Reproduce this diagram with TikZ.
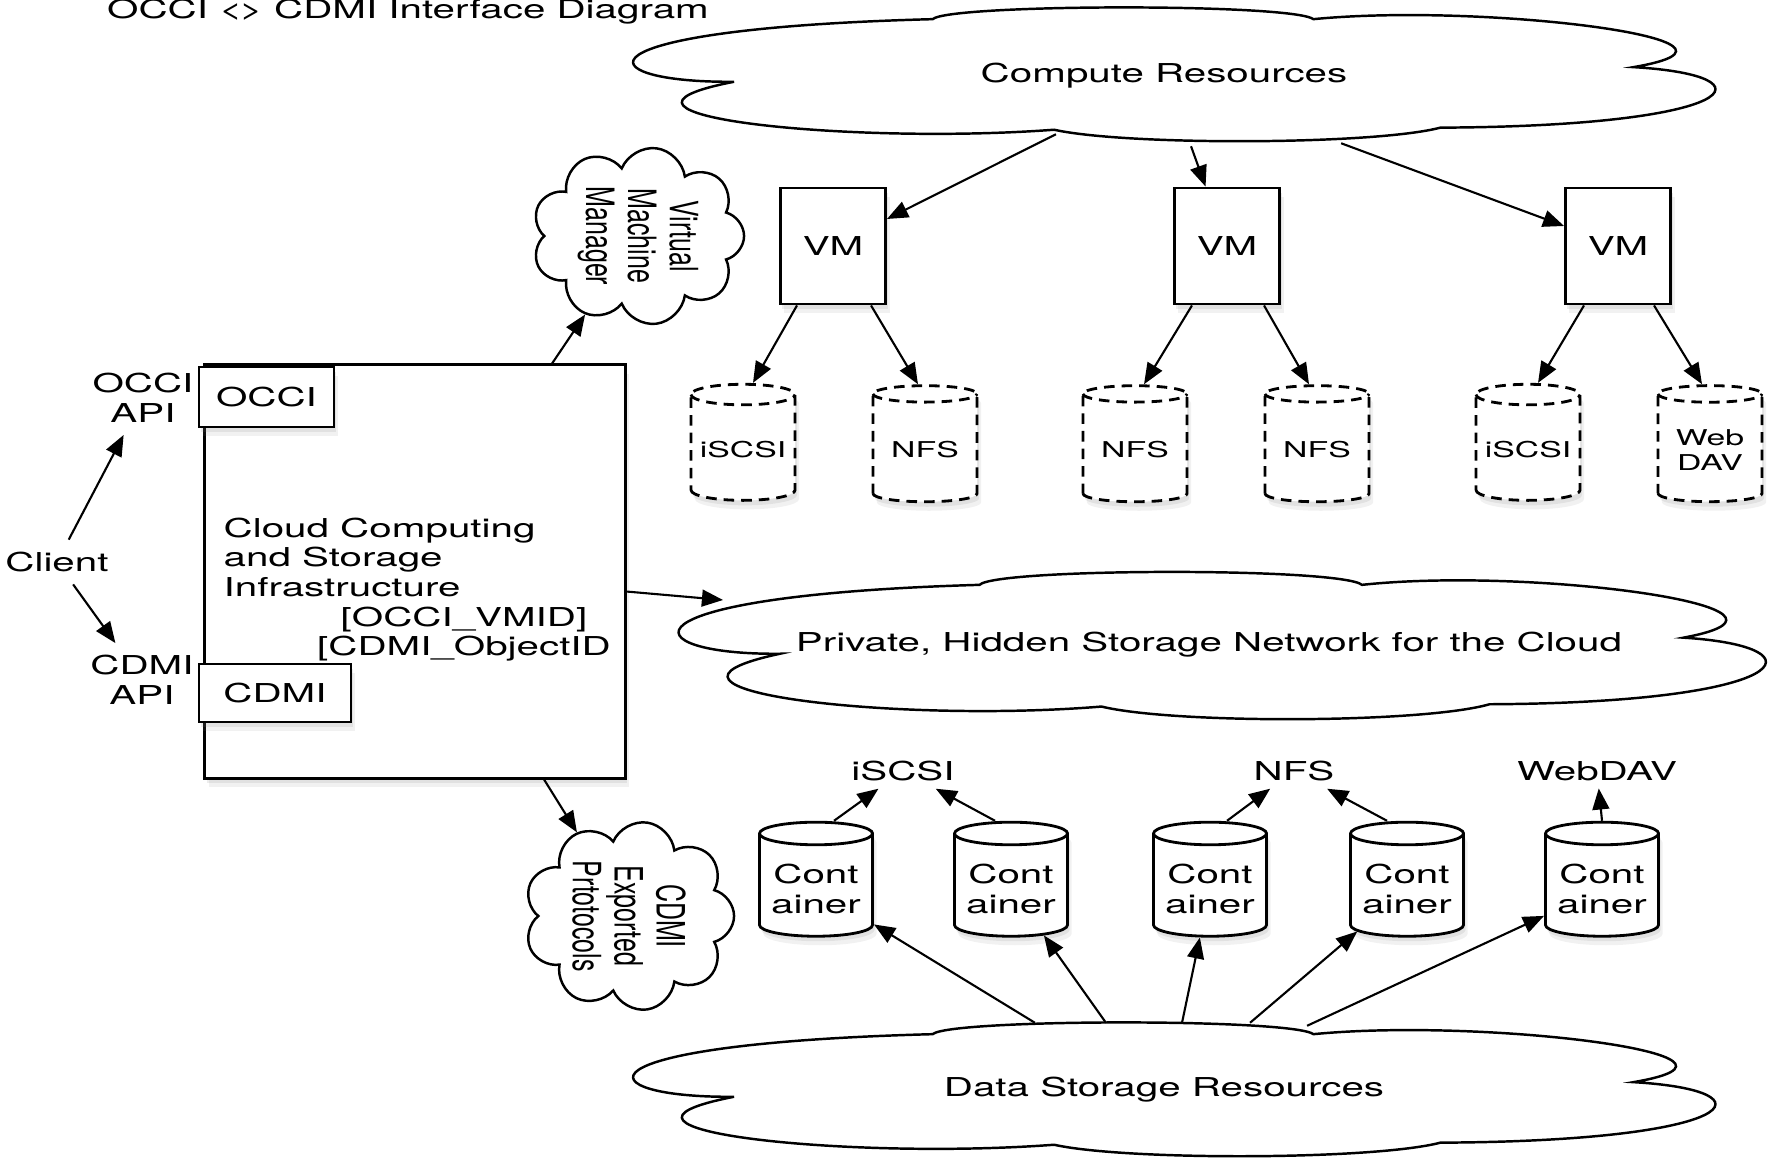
\documentclass[tikz,border=0pt]{standalone}
\usepackage{fontspec}
\setmainfont{TeX Gyre Heros}
\newfontfamily\widesans[FakeStretch=1.55]{TeX Gyre Heros}
\newfontfamily\tallsans[FakeStretch=0.64]{TeX Gyre Heros}
\usetikzlibrary{arrows.meta,shapes.geometric,shapes.symbols,shadows}
\def\boxfont{\widesans\fontsize{7.4}{8.4}\selectfont}
\def\smallfont{\widesans\fontsize{6.2}{7.3}\selectfont}
\def\sidefont{\tallsans\fontsize{11.1}{11.9}\selectfont}
% flat cloud with six lobes, #1 centre, #2 and #3 half width and half height in cm
\newcommand\puffcloud[3]{\draw[cloudline, shift={#1}, x=#2cm, y=#3cm]
	(-0.81, -0.14) .. controls (-1.08, -0.16) and (-1.12, 0.62) .. (-0.45, 0.76)
	.. controls (-0.42, 0.98) and (0.2, 0.99) .. (0.24, 0.76)
	.. controls (0.55, 1.0) and (1.1, 0.45) .. (0.82, 0.07)
	.. controls (1.08, -0.05) and (1.02, -0.78) .. (0.47, -0.8)
	.. controls (0.35, -1.05) and (-0.1, -1.06) .. (-0.23, -0.83)
	.. controls (-0.6, -1.05) and (-1.12, -0.62) .. (-0.81, -0.14) -- cycle;}
\tikzset{
	softshadow/.style={drop shadow={opacity=0.14, shadow xshift=0.02cm, shadow yshift=-0.05cm},
		drop shadow={opacity=0.11, shadow xshift=0.04cm, shadow yshift=-0.09cm}},
	box/.style={draw, fill=white, line width=0.8pt, softshadow},
	cloudline/.style={draw, fill=white, line width=0.7pt},
	puff/.style={cloud, cloud puffs=9, cloud ignores aspect, draw, fill=white, line width=0.7pt, rotate=-90, font=\sidefont, align=center, inner sep=0pt},
	tank/.style={cylinder, shape border rotate=90, draw, fill=white, line width=0.8pt, aspect=0.22, softshadow, align=center},
	hidden/.style={dash pattern=on 3pt off 2pt, font=\smallfont, inner xsep=1pt},
	arr/.style={-{Triangle[length=6pt, width=4.8pt]}, line width=0.6pt}
}

\begin{document}
\begin{tikzpicture}[x=0.01cm, y=-0.01cm, font=\boxfont]
		%%%%% START %%%%%
		\useasboundingbox (0, 0) rectangle (1785, 1160);
		
		\node (title) at (408, 12) {OCCI <\kern-0.13em> CDMI Interface Diagram};
		
		% clouds
		\puffcloud{(1181, 72)}{5.515}{0.695}
		\puffcloud{(1229, 643)}{5.54}{0.765}
		\puffcloud{(1181, 1087)}{5.515}{0.695}
		\node[minimum width=11.03cm, minimum height=1.39cm] (compute) at (1164, 76) {Compute Resources};
		\node[minimum width=11.08cm, minimum height=1.53cm] (private) at (1209, 645) {Private, Hidden Storage Network for the Cloud};
		\node[minimum width=11.03cm, minimum height=1.39cm] (data) at (1164, 1090) {Data Storage Resources};
		\node[puff, minimum width=1.78cm, minimum height=2.12cm] (vmm) at (638, 236) {Virtual\\Machine\\Manager};
		\node[puff, minimum width=1.72cm, minimum height=2.1cm] (cdmiexp) at (629, 916) {CDMI\\Exported\\Prtotocols};
		
		% infrastructure
		\node[box, minimum width=4.2cm, minimum height=4.13cm] (main) at (415, 571.5) {};
		\node[box, minimum width=1.35cm, minimum height=0.6cm] (occi) at (266.5, 397) {OCCI};
		\node[box, minimum width=1.52cm, minimum height=0.58cm] (cdmi) at (275, 693) {CDMI};
		\node[anchor=north west, align=left, inner sep=0pt] (infra) at (223, 517) {Cloud Computing\\and Storage\\Infrastructure};
		\node[anchor=north, align=center, inner sep=0pt] (ids) at (464, 606) {[OCCI\_VMID]\\{[CDMI\_ObjectID}};
		
		\node[align=center] (occiapi) at (143, 398) {OCCI\\API};
		\node[align=center] (cdmiapi) at (142, 680) {CDMI\\API};
		\node (client) at (57, 562) {Client};
		
		% virtual machines
		\node[box, minimum width=1.05cm, minimum height=1.16cm] (vm1) at (833, 246) {VM};
		\node[box, minimum width=1.05cm, minimum height=1.16cm] (vm2) at (1227, 246) {VM};
		\node[box, minimum width=1.05cm, minimum height=1.16cm] (vm3) at (1618, 246) {VM};
		
		\node[tank, hidden, minimum width=1.04cm, minimum height=1.16cm] (s1) at (743, 450) {iSCSI};
		\node[tank, hidden, minimum width=1.04cm, minimum height=1.16cm] (s2) at (925, 450) {NFS};
		\node[tank, hidden, minimum width=1.04cm, minimum height=1.16cm] (s3) at (1135, 450) {NFS};
		\node[tank, hidden, minimum width=1.04cm, minimum height=1.16cm] (s4) at (1317, 450) {NFS};
		\node[tank, hidden, minimum width=1.04cm, minimum height=1.16cm] (s5) at (1528, 450) {iSCSI};
		\node[tank, hidden, minimum width=1.04cm, minimum height=1.16cm] (s6) at (1710, 450) {Web\\DAV};
		
		% containers
		\node[tank, aspect=0.2, minimum width=1.11cm, minimum height=1.14cm] (c1) at (816, 889) {Cont\\ainer};
		\node[tank, aspect=0.2, minimum width=1.11cm, minimum height=1.14cm] (c2) at (1011, 889) {Cont\\ainer};
		\node[tank, aspect=0.2, minimum width=1.11cm, minimum height=1.14cm] (c3) at (1210, 889) {Cont\\ainer};
		\node[tank, aspect=0.2, minimum width=1.11cm, minimum height=1.14cm] (c4) at (1407, 889) {Cont\\ainer};
		\node[tank, aspect=0.2, minimum width=1.11cm, minimum height=1.14cm] (c5) at (1602, 889) {Cont\\ainer};
		
		\node[inner sep=2pt] (iscsil) at (903, 771) {iSCSI};
		\node[inner sep=2pt] (nfsl) at (1294, 771) {NFS};
		\node[inner sep=2pt] (webdavl) at (1597, 771) {WebDAV};
		
		% connectors
		\draw[arr] (client) -- (occiapi);
		\draw[arr] (client) -- (cdmiapi);
		\draw[arr] ([xshift=1.37cm]main.north) -- (vmm);
		\draw[arr] ([yshift=-0.2cm]main.east) -- ([xshift=0.69cm, yshift=0.45cm]private.west);
		\draw[arr] ([xshift=1.29cm]main.south) -- (cdmiexp);
		
		\draw[arr] ([xshift=-1.08cm, yshift=0.12cm]compute.south) -- (vm1);
		\draw[arr] ([xshift=0.27cm]compute.south) -- (vm2);
		\draw[arr] ([xshift=1.77cm, yshift=0.03cm]compute.south) -- (vm3);
		
		\draw[arr] ([xshift=-0.36cm]vm1.south) -- ([xshift=0.1cm]s1.north);
		\draw[arr] ([xshift=0.38cm]vm1.south) -- ([xshift=-0.07cm]s2.north);
		\draw[arr] ([xshift=-0.35cm]vm2.south) -- ([xshift=0.09cm]s3.north);
		\draw[arr] ([xshift=0.37cm]vm2.south) -- ([xshift=-0.08cm]s4.north);
		\draw[arr] ([xshift=-0.34cm]vm3.south) -- ([xshift=0.1cm]s5.north);
		\draw[arr] ([xshift=0.36cm]vm3.south) -- ([xshift=-0.08cm]s6.north);
		
		\draw[arr] ([xshift=0.18cm]c1.north) -- (iscsil);
		\draw[arr] ([xshift=-0.16cm]c2.north) -- (iscsil);
		\draw[arr] ([xshift=0.17cm]c3.north) -- (nfsl);
		\draw[arr] ([xshift=-0.2cm]c4.north) -- (nfsl);
		\draw[arr] (c5.north) -- (webdavl);
		
		\draw[arr] ([xshift=-1.29cm, yshift=-0.03cm]data.north) -- (c1);
		\draw[arr] ([xshift=-0.58cm, yshift=-0.03cm]data.north) -- (c2);
		\draw[arr] ([xshift=0.18cm, yshift=-0.03cm]data.north) -- (c3);
		\draw[arr] ([xshift=0.86cm, yshift=-0.03cm]data.north) -- (c4);
		\draw[arr] ([xshift=1.43cm, yshift=-0.06cm]data.north) -- (c5);
		%%%%% END %%%%%
\end{tikzpicture}
\end{document}
